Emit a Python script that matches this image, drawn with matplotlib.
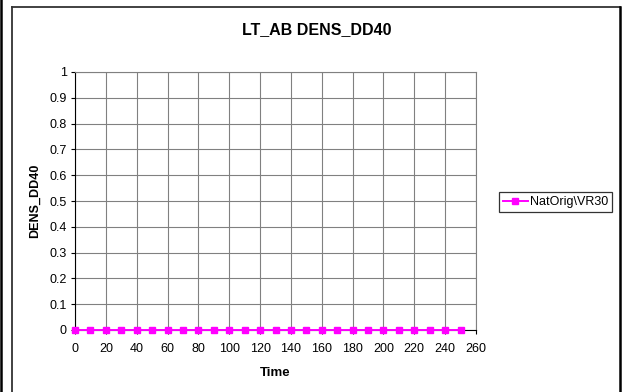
import matplotlib
matplotlib.use('Agg')
import matplotlib.pyplot as plt
from matplotlib.lines import Line2D

# data
time = [0, 10, 20, 30, 40, 50, 60, 70, 80, 90, 100, 110, 120,
        130, 140, 150, 160, 170, 180, 190, 200, 210, 220, 230, 240, 250]
dens_dd40 = [0, 0, 0, 0, 0, 0, 0, 0, 0, 0, 0, 0, 0,
             0, 0, 0, 0, 0, 0, 0, 0, 0, 0, 0, 0, 0]
series_name = 'NatOrig\\VR30'
x_ticks = [0, 20, 40, 60, 80, 100, 120, 140, 160, 180, 200, 220, 240, 260]
y_ticks = [0, 0.1, 0.2, 0.3, 0.4, 0.5, 0.6, 0.7, 0.8, 0.9, 1]
y_tick_labels = ['0', '0.1', '0.2', '0.3', '0.4', '0.5', '0.6', '0.7', '0.8', '0.9', '1']

plt.rcParams['font.family'] = ['Liberation Sans', 'DejaVu Sans']

W, H = 623, 392
fig = plt.figure(figsize=(W / 100, H / 100), dpi=100)

# outer frame lines (pixel coords -> figure fraction)
def px(x, y):
    return x / W, 1 - y / H

fig.add_artist(Line2D([1 / W, 1 / W], [0, 1], color='black', lw=1.8))
x0, y0 = px(11.5, 6.5)
x1, _ = px(620, 0)
fig.add_artist(Line2D([x0, x0], [0, y0], color='#333333', lw=1.3))
fig.add_artist(Line2D([x0, x1], [y0, y0], color='#333333', lw=1.3))
fig.add_artist(Line2D([x1, x1], [0, y0], color='black', lw=1.8))

ax = fig.add_axes([75 / W, 1 - 330 / H, 401 / W, 258 / H])
ax.plot(time, dens_dd40, color='#FF00FF', lw=1.4, marker='s', markersize=4.2,
        markeredgecolor='#FF00FF', label=series_name, clip_on=False, zorder=5)

ax.set_xlim(0, 260)
ax.set_ylim(0, 1)
ax.set_xticks(x_ticks)
ax.set_yticks(y_ticks)
ax.set_yticklabels(y_tick_labels)
ax.tick_params(labelsize=9, length=3, width=0.8)
ax.tick_params(axis='x', pad=6)
ax.tick_params(axis='y', pad=3)
ax.grid(True, color='#808080', lw=0.8)
ax.set_axisbelow(True)
for s in ['top', 'right']:
    ax.spines[s].set_color('#808080')
for s in ['left', 'bottom']:
    ax.spines[s].set_color('black')

ax.set_xlabel('Time', fontsize=9.5, fontweight='bold', labelpad=9)
ax.set_ylabel('DENS_DD40', fontsize=9, fontweight='bold', labelpad=6)
fig.text(317 / W, 1 - 30 / H, 'LT_AB DENS_DD40', ha='center', va='center',
         fontsize=11.5, fontweight='bold')

leg = fig.legend(loc='center left', bbox_to_anchor=(499 / W, 1 - 202 / H),
                 fontsize=9, frameon=True, fancybox=False, borderpad=0.3,
                 handlelength=2.0, handletextpad=0.2, borderaxespad=0)
leg.get_frame().set_edgecolor('black')
leg.get_frame().set_linewidth(0.9)

fig.savefig('out.png', dpi=100)
